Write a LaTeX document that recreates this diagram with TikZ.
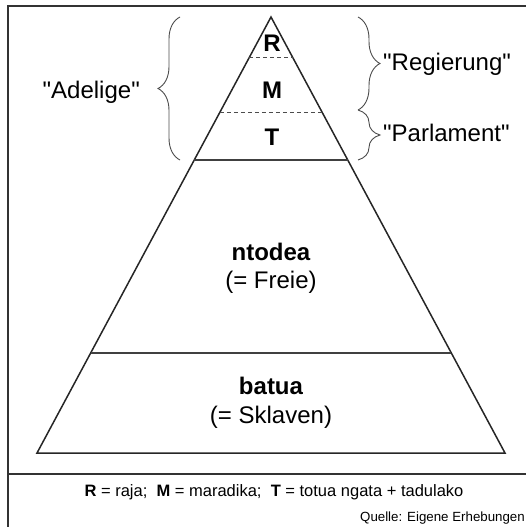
\documentclass[tikz,border=0pt]{standalone}
\usepackage{fontspec}
\setmainfont{Liberation Sans}[Ligatures=TeXOff]
\usetikzlibrary{calc,decorations.pathreplacing}
\begin{document}
\begin{tikzpicture}[x=1pt,y=-1pt,
  frameline/.style={line width=1.3pt,draw=black!80},
  tri/.style={line width=1.5pt,draw=black!85},
  layer/.style={line width=1.2pt,draw=black!75},
  dashlayer/.style={line width=1pt,draw=black!70,dash pattern=on 4pt off 3pt},
  bracestyle/.style={decorate,decoration={brace,amplitude=22pt},line width=0.9pt,draw=black!70},
  lbl/.style={font=\fontsize{24}{27}\selectfont,inner sep=0pt},
  boldlbl/.style={font=\fontsize{24}{27}\selectfont\bfseries,inner sep=0pt},
  rank/.style={font=\fontsize{24}{27}\selectfont\bfseries,inner sep=0pt},
  legend/.style={font=\fontsize{16.5}{19}\selectfont,inner sep=0pt},
  source/.style={font=\fontsize{13.3}{15}\selectfont,inner sep=0pt}]
\useasboundingbox (0,0) rectangle (526,527);
% frame
\draw[frameline] (8,527) -- (8,6) -- (526,6);
\draw[frameline] (8,474) -- (526,474);
% triangle
\coordinate (A) at (271,17);
\coordinate (BL) at (37,453);
\coordinate (BR) at (505,453);
\draw[tri,line join=miter] (A) -- (BL) -- (BR) -- cycle;
% layer lines
\coordinate (d1l) at ($(A)!0.094!(BL)$);
\coordinate (d1r) at ($(A)!0.094!(BR)$);
\coordinate (d2l) at ($(A)!0.218!(BL)$);
\coordinate (d2r) at ($(A)!0.218!(BR)$);
\coordinate (s1l) at ($(A)!0.328!(BL)$);
\coordinate (s1r) at ($(A)!0.328!(BR)$);
\coordinate (s2l) at ($(A)!0.7706!(BL)$);
\coordinate (s2r) at ($(A)!0.7706!(BR)$);
\draw[dashlayer] (d1l) -- (d1r);
\draw[dashlayer] (d2l) -- (d2r);
\draw[layer] (s1l) -- (s1r);
\draw[layer] (s2l) -- (s2r);
% rank labels
\node[rank] (R) at (272,43) {R};
\node[rank] (M) at (272,90) {M};
\node[rank] (T) at (272,137) {T};
\node[boldlbl] (nt) at (271,252) {ntodea};
\node[lbl] (fr) at (271,282) {(= Freie)};
\node[boldlbl] (ba) at (271,386) {batua};
\node[lbl] (sk) at (271,417) {(= Sklaven)};
% braces
\coordinate (lb1) at (180,160);
\coordinate (lb2) at (180,17);
\draw[bracestyle] (lb1) -- (lb2);
\coordinate (rb1) at (358,17);
\coordinate (rb2) at (358,110);
\coordinate (rb3) at (358,160);
\draw[bracestyle] (rb1) -- (rb2);
\draw[bracestyle] (rb2) -- (rb3);
\node[lbl,anchor=east] (adel) at (140,92) {"Adelige"};
\node[lbl,anchor=west] (reg) at (383,64) {"Regierung"};
\node[lbl,anchor=west] (par) at (383,133) {"Parlament"};
% legend
\node[legend] (leg) at (274,492) {\textbf{R} = raja;\ \ \textbf{M} = maradika;\ \ \textbf{T} = totua ngata + tadulako};
\node[source,anchor=east] (src) at (525,518) {Quelle: Eigene Erhebungen};
\end{tikzpicture}
\end{document}
